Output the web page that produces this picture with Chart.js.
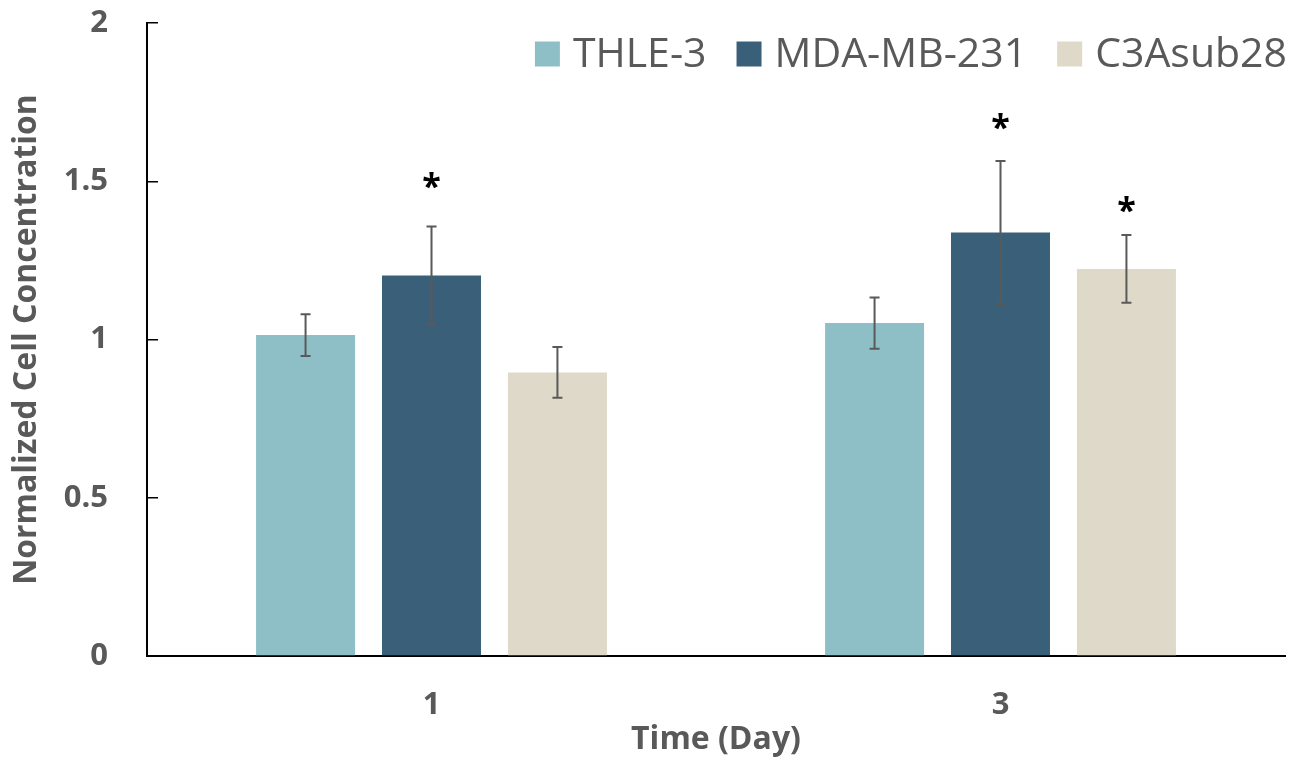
<!DOCTYPE html>
<html>
<head>
<meta charset="utf-8">
<script src="https://cdn.jsdelivr.net/npm/chart.js@4.4.1/dist/chart.umd.min.js"></script>
<style>
  html, body { margin: 0; padding: 0; background: #fff; }
  #wrap { width: 1304px; height: 762px; }
</style>
</head>
<body>
<div id="wrap"><canvas id="chart" width="1304" height="762"></canvas></div>
<script>
// Normalized cell concentration by day, three cell lines, mean ± error.
const days = ["1", "3"];
const seriesNames = ["THLE-3", "MDA-MB-231", "C3Asub28"];
const thle3 = [1.014, 1.052];
const mdamb231 = [1.202, 1.338];
const c3asub28 = [0.896, 1.223];
const thle3Err = [0.066, 0.081];
const mdamb231Err = [0.155, 0.226];
const c3asub28Err = [0.080, 0.107];
// significance marks: which series, which day, height on the y scale
const starSeries = [1, 1, 2];
const starDay = [0, 1, 1];
const starLevel = [1.503, 1.688, 1.426];
const yTicks = [0, 0.5, 1, 1.5, 2];

const COLORS = ["#8fbfc6", "#3a6079", "#dfd9c9"];
const TEXT = "#595959";
const FONT = "'Open Sans', sans-serif";

const values = [thle3, mdamb231, c3asub28];
const errors = [thle3Err, mdamb231Err, c3asub28Err];

const errorBars = {
  id: "errorBars",
  afterDatasetsDraw(chart) {
    const { ctx, scales: { y } } = chart;
    ctx.save();
    ctx.strokeStyle = TEXT;
    ctx.lineWidth = 2;
    errors.forEach((errs, i) => {
      chart.getDatasetMeta(i).data.forEach((bar, j) => {
        const v = values[i][j];
        const top = y.getPixelForValue(v + errs[j]);
        const bot = y.getPixelForValue(v - errs[j]);
        ctx.beginPath();
        ctx.moveTo(bar.x, top); ctx.lineTo(bar.x, bot);
        ctx.moveTo(bar.x - 5, top); ctx.lineTo(bar.x + 5, top);
        ctx.moveTo(bar.x - 5, bot); ctx.lineTo(bar.x + 5, bot);
        ctx.stroke();
      });
    });
    // asterisks
    ctx.fillStyle = "#000";
    ctx.font = `bold 34px ${FONT}`;
    ctx.textAlign = "center";
    ctx.textBaseline = "alphabetic";
    const m = ctx.measureText("*");
    const half = (m.actualBoundingBoxAscent - m.actualBoundingBoxDescent) / 2;
    starLevel.forEach((lvl, k) => {
      const bar = chart.getDatasetMeta(starSeries[k]).data[starDay[k]];
      ctx.fillText("*", bar.x, y.getPixelForValue(lvl) + half);
    });
    ctx.restore();
  },
};

// one-row legend inside the plot, top right (as in the original)
const insideLegend = {
  id: "insideLegend",
  afterDraw(chart) {
    const { ctx, chartArea } = chart;
    const box = 25, toText = 13, gap = 30, cy = 54;
    ctx.save();
    ctx.font = `41px ${FONT}`;
    ctx.textBaseline = "middle";
    ctx.textAlign = "left";
    const widths = seriesNames.map((s) => ctx.measureText(s).width);
    const total = widths.reduce((a, w) => a + box + toText + w, 0) + gap * (widths.length - 1);
    let x = chartArea.right + 2 - total;
    seriesNames.forEach((name, i) => {
      ctx.fillStyle = COLORS[i];
      ctx.fillRect(x, cy - box / 2, box, box);
      ctx.fillStyle = TEXT;
      ctx.fillText(name, x + box + toText, cy + 1);
      x += box + toText + widths[i] + gap;
    });
    ctx.restore();
  },
};

new Chart(document.getElementById("chart"), {
  type: "bar",
  data: {
    labels: days,
    datasets: seriesNames.map((name, i) => ({
      label: name,
      data: values[i],
      backgroundColor: COLORS[i],
      borderWidth: 0,
      categoryPercentage: 0.664,
      barPercentage: 0.786,
    })),
  },
  options: {
    responsive: false,
    animation: false,
    layout: { padding: { top: 23, right: 19, bottom: 0, left: 0 } },
    plugins: {
      legend: { display: false },
      tooltip: { enabled: false },
    },
    scales: {
      x: {
        grid: { display: false, drawTicks: false },
        border: { display: true, color: "#000", width: 2 },
        ticks: { color: TEXT, padding: 31, font: { family: FONT, size: 31, weight: "bold" } },
        title: { display: true, text: "Time (Day)", color: TEXT, padding: { top: 0, bottom: 3 },
          font: { family: FONT, size: 32, weight: "bold" } },
        afterFit: (s) => { s.height = 106; },
      },
      y: {
        min: 0, max: 2,
        afterBuildTicks: (s) => { s.ticks = yTicks.map((v) => ({ value: v })); },
        grid: { drawOnChartArea: false, drawTicks: true, tickLength: -11, color: "#000", lineWidth: 1.5 },
        border: { display: true, color: "#000", width: 2 },
        ticks: { color: TEXT, padding: 50, callback: (v) => String(v),
          font: { family: FONT, size: 31, weight: "bold" } },
        title: { display: true, text: "Normalized Cell Concentration", color: TEXT, padding: { top: 8, bottom: 0 },
          font: { family: FONT, size: 32, weight: "bold" } },
        // fixed axis width; the big label padding must not push the plot down
        afterFit: (s) => { s.width = 147; s.paddingTop = 0; s.paddingBottom = 0; },
      },
    },
  },
  plugins: [errorBars, insideLegend],
});
</script>
</body>
</html>
